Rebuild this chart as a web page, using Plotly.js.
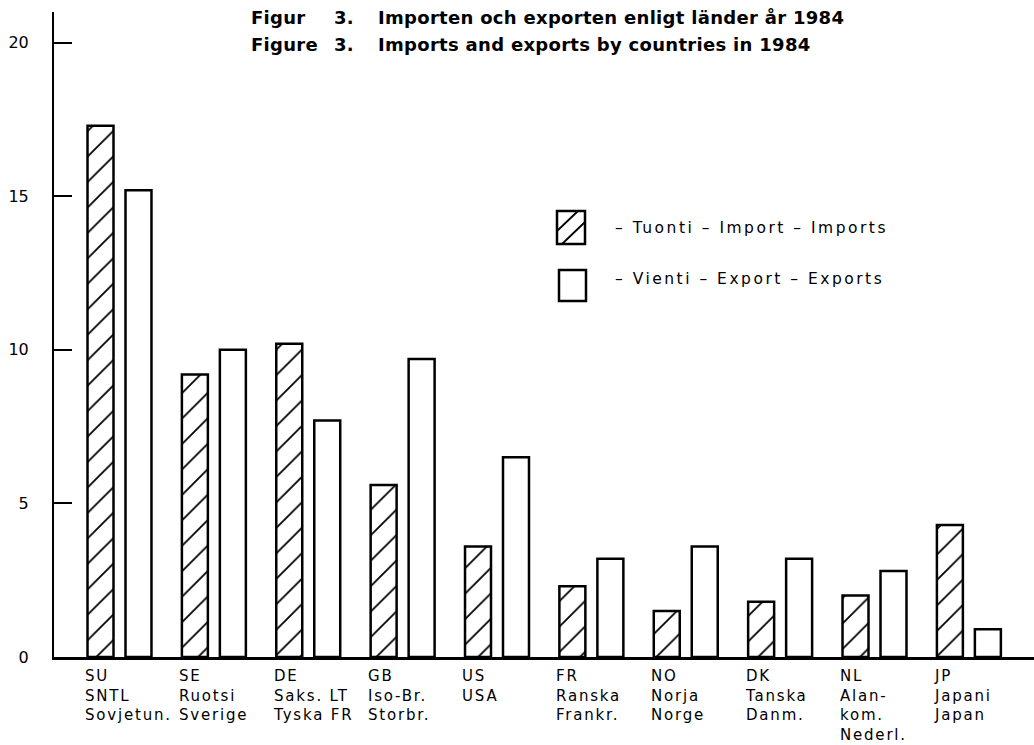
<!DOCTYPE html>
<html>
<head>
<meta charset="utf-8">
<script src="https://cdn.plot.ly/plotly-3.0.1.min.js"></script>
<style>
  html, body { margin:0; padding:0; background:#fff; }
  #plot { width:1034px; height:745px; }
  .annotation-text { letter-spacing: 1.8px; }
  .annotation[data-index="0"] text, .annotation[data-index="1"] text, .annotation[data-index="2"] text,
  .annotation[data-index="3"] text, .annotation[data-index="4"] text, .annotation[data-index="5"] text { letter-spacing: 0.3px; }
  .annotation[data-index="6"] text, .annotation[data-index="7"] text { letter-spacing: 2.5px; }
</style>
</head>
<body>
<div id="plot"></div>
<script>
// ---- data ----
const categories = ['SU','SE','DE','GB','US','FR','NO','DK','NL','JP'];
const categoryLabels = [
  ['SU','SNTL','Sovjetun.'],
  ['SE','Ruotsi','Sverige'],
  ['DE','Saks. LT','Tyska FR'],
  ['GB','Iso-Br.','Storbr.'],
  ['US','USA'],
  ['FR','Ranska','Frankr.'],
  ['NO','Norja','Norge'],
  ['DK','Tanska','Danm.'],
  ['NL','Alan-','kom.','Nederl.'],
  ['JP','Japani','Japan']
];
const imports = [17.3, 9.2, 10.2, 5.6, 3.6, 2.3, 1.5, 1.8, 2.0, 4.3];
const exports = [15.2, 10.0, 7.7, 9.7, 6.5, 3.2, 3.6, 3.2, 2.8, 0.9];
const importName = '– Tuonti – Import – Imports';
const exportName = '– Vienti – Export – Exports';
const titleSv = ['Figur', '3.', 'Importen och exporten enligt länder år 1984'];
const titleEn = ['Figure', '3.', 'Imports and exports by countries in 1984'];
const yTicks = [0, 5, 10, 15, 20];

// ---- layout helpers ----
const W = 1034, H = 745, ML = 54, MR = 0, MT = 12, MB = 88;
const PW = W - ML - MR, PH = H - MT - MB;
const px = x => (x - ML) / PW;
const py = y => (H - MB - y) / PH;

const REG = 'DejaVu Sans, Liberation Sans, sans-serif';

const traces = [
  {
    type: 'bar', name: importName, x: categories, y: imports,
    marker: {
      color: '#ffffff',
      line: { color: '#000000', width: 2.5 },
      pattern: { shape: '/', size: 18, solidity: 0.1, fgcolor: '#000000', bgcolor: '#ffffff' }
    },
    hoverinfo: 'x+y'
  },
  {
    type: 'bar', name: exportName, x: categories, y: exports,
    marker: { color: '#ffffff', line: { color: '#000000', width: 2.5 } },
    hoverinfo: 'x+y'
  }
];

const annotations = [];
const titleX = [249, 332, 376];
titleSv.forEach((t, i) => annotations.push({
  xref: 'paper', yref: 'paper', x: px(titleX[i]), y: py(17), xanchor: 'left', yanchor: 'middle', align: 'left',
  text: '<b>' + t + '</b>', showarrow: false, font: { family: REG, size: 18, color: '#000' }
}));
titleEn.forEach((t, i) => annotations.push({
  xref: 'paper', yref: 'paper', x: px(titleX[i]), y: py(45), xanchor: 'left', yanchor: 'middle', align: 'left',
  text: '<b>' + t + '</b>', showarrow: false, font: { family: REG, size: 18, color: '#000' }
}));
annotations.push({
  xref: 'paper', yref: 'paper', x: px(613), y: py(228), xanchor: 'left', yanchor: 'middle', align: 'left',
  text: importName, showarrow: false, font: { family: REG, size: 15.5, color: '#000' }
});
annotations.push({
  xref: 'paper', yref: 'paper', x: px(613), y: py(279), xanchor: 'left', yanchor: 'middle', align: 'left',
  text: exportName, showarrow: false, font: { family: REG, size: 15.5, color: '#000' }
});
categories.forEach((c, i) => annotations.push({
  xref: 'x', yref: 'paper', x: c, y: 0, xanchor: 'left', yanchor: 'top', align: 'left',
  xshift: -37, yshift: -8,
  text: categoryLabels[i].join('<br>'), showarrow: false,
  font: { family: REG, size: 15, color: '#000' }
}));

const shapes = [
  { type: 'rect', xref: 'paper', yref: 'paper', x0: px(557), x1: px(585), y0: py(244), y1: py(211),
    line: { color: '#000', width: 2.5 }, fillcolor: '#fff' },
  { type: 'path', xref: 'paper', yref: 'paper',
    path: `M ${px(557)} ${py(231)} L ${px(578)} ${py(211)} M ${px(562)} ${py(244)} L ${px(585)} ${py(222)}`,
    line: { color: '#000', width: 1.8 } },
  { type: 'rect', xref: 'paper', yref: 'paper', x0: px(559), x1: px(586), y0: py(301), y1: py(270),
    line: { color: '#000', width: 2.5 }, fillcolor: '#fff' }
];

const layout = {
  width: W, height: H,
  margin: { l: ML, r: MR, t: MT, b: MB, pad: 0 },
  paper_bgcolor: '#fff', plot_bgcolor: '#fff',
  showlegend: false,
  barmode: 'group', bargap: 0.195, bargroupgap: 0.316,
  font: { family: REG, color: '#000' },
  xaxis: {
    type: 'category', range: [-0.694, 9.69],
    showline: true, linecolor: '#000', linewidth: 2.5,
    ticks: '', showticklabels: false, showgrid: false, zeroline: false, fixedrange: true
  },
  yaxis: {
    range: [0, 21], tickvals: yTicks, ticktext: yTicks.map(String),
    showline: true, linecolor: '#000', linewidth: 2,
    ticks: 'inside', ticklen: 18, tickwidth: 2, tickcolor: '#000',
    ticklabelstandoff: 20,
    tickfont: { family: REG, size: 16, color: '#000' },
    showgrid: false, zeroline: false, fixedrange: true
  },
  annotations: annotations,
  shapes: shapes
};

Plotly.newPlot('plot', traces, layout, { displayModeBar: false, staticPlot: true });
</script>
</body>
</html>
